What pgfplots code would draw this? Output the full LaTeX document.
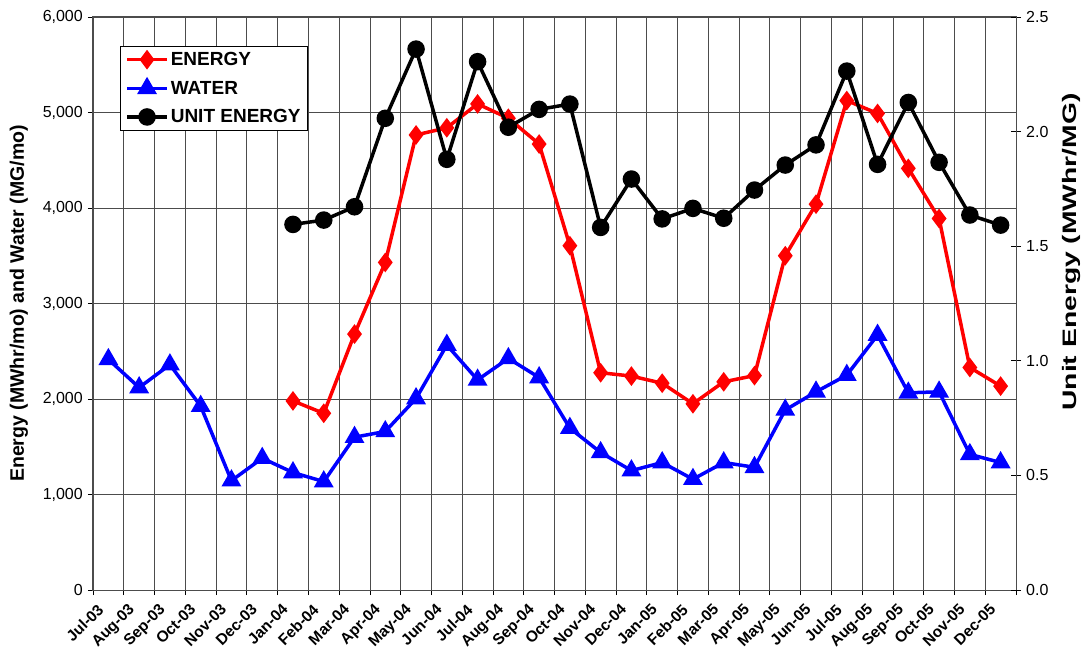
\documentclass[border=0pt]{standalone}
\usepackage{fontspec}
\setmainfont{Liberation Sans}
\usepackage{graphicx}
\usepackage{pgfplots}
\pgfplotsset{compat=1.18}

\newcommand{\tickfont}{\fontsize{16bp}{18bp}\selectfont}
\newcommand{\labfont}{\bfseries\fontsize{19.5bp}{21bp}\selectfont}

\begin{document}
\begin{tikzpicture}
\useasboundingbox (-93bp,-66bp) rectangle (989bp,590bp);
% left axis: energy and water
\begin{axis}[
    at={(0,0)}, anchor=south west,
    scale only axis,
    width=923bp, height=573bp,
    xmin=0, xmax=30,
    ymin=0, ymax=6000,
    xtick={0,...,30},
    xticklabels={Jul-03,Aug-03,Sep-03,Oct-03,Nov-03,Dec-03,
                 Jan-04,Feb-04,Mar-04,Apr-04,May-04,Jun-04,Jul-04,Aug-04,Sep-04,Oct-04,Nov-04,Dec-04,
                 Jan-05,Feb-05,Mar-05,Apr-05,May-05,Jun-05,Jul-05,Aug-05,Sep-05,Oct-05,Nov-05,Dec-05,{}},
    x tick label style={rotate=45, anchor=north east, inner sep=0bp, xshift=-3bp, yshift=-8bp,
                        font=\bfseries\fontsize{15.5bp}{17bp}\selectfont},
    ytick={0,1000,...,6000},
    y tick label style={font=\tickfont, inner sep=2bp, xshift=-3bp},
    /pgf/number format/assume math mode=true,
    /pgf/number format/1000 sep={,},
    scaled y ticks=false,
    tick align=outside,
    major tick length=5bp,
    xtick pos=bottom, ytick pos=left,
    xmajorgrids, ymajorgrids,
    major grid style={black!70, line width=0.8bp},
    axis line style={black!70, line width=1bp},
    tick style={black, line width=0.8bp},
    ylabel={Energy (MWhr/mo) and Water (MG/mo)},
    ylabel style={font=\labfont, at={(axis description cs:-0.0802,0.5)}, anchor=center},
    legend style={at={(27bp,544bp)}, anchor=north west, draw=black, line width=0.6bp,
                  font=\bfseries\fontsize{19bp}{21bp}\selectfont,
                  inner xsep=5bp, inner ysep=4bp, row sep=10bp,
                  /tikz/every even column/.append style={column sep=3bp}},
    legend cell align=left,
    legend image code/.code={\draw[#1, mark repeat=2, mark phase=2]
        plot coordinates {(0bp,0bp) (20bp,0bp) (40bp,0bp)};},
]
\addplot[red, line width=3.5bp, mark=diamond*, mark size=7bp, mark options={solid}] coordinates {
(6.5,1980) (7.5,1850) (8.5,2680) (9.5,3430) (10.5,4765) (11.5,4840) (12.5,5090) (13.5,4940)
(14.5,4670) (15.5,3605) (16.5,2275) (17.5,2240) (18.5,2165) (19.5,1950) (20.5,2180) (21.5,2245)
(22.5,3500) (23.5,4040) (24.5,5125) (25.5,4990) (26.5,4415) (27.5,3890) (28.5,2330) (29.5,2135)
};
\addlegendentry{ENERGY}
\addplot[blue, line width=3.5bp, mark=triangle*, mark size=8bp, mark options={solid}] coordinates {
(0.5,2415) (1.5,2120) (2.5,2360) (3.5,1925) (4.5,1145) (5.5,1380) (6.5,1230) (7.5,1135)
(8.5,1600) (9.5,1660) (10.5,2005) (11.5,2565) (12.5,2200) (13.5,2425) (14.5,2225) (15.5,1695)
(16.5,1440) (17.5,1250) (18.5,1335) (19.5,1160) (20.5,1335) (21.5,1285) (22.5,1885) (23.5,2075)
(24.5,2250) (25.5,2670) (26.5,2065) (27.5,2075) (28.5,1420) (29.5,1335)
};
\addlegendentry{WATER}
\addlegendimage{black, line width=3.5bp, mark=*, mark size=7bp}
\addlegendentry{UNIT ENERGY}
\end{axis}
% right axis: unit energy
\begin{axis}[
    at={(0,0)}, anchor=south west,
    scale only axis,
    width=923bp, height=573bp,
    xmin=0, xmax=30,
    ymin=0, ymax=2.5,
    axis x line=none,
    axis y line*=right,
    ytick={0,0.5,...,2.5},
    y tick label style={font=\tickfont, inner sep=2bp, xshift=3bp},
    /pgf/number format/assume math mode=true,
    yticklabel={\pgfmathprintnumber[fixed, fixed zerofill, precision=1]{\tick}},
    tick align=center,
    major tick length=10bp,
    axis line style={black!70, line width=1bp},
    tick style={black, line width=0.8bp},
    ylabel={\scalebox{1.45}[1]{Unit Energy (MWhr/MG)}},
    ylabel style={font=\labfont, at={(axis description cs:1.0596,0.59)}, anchor=center},
]
\addplot[black, line width=3.5bp, mark=*, mark size=7bp] coordinates {
(6.5,1.595) (7.5,1.614) (8.5,1.672) (9.5,2.058) (10.5,2.360) (11.5,1.879) (12.5,2.305) (13.5,2.019)
(14.5,2.097) (15.5,2.120) (16.5,1.582) (17.5,1.793) (18.5,1.619) (19.5,1.665) (20.5,1.622) (21.5,1.745)
(22.5,1.854) (23.5,1.942) (24.5,2.264) (25.5,1.857) (26.5,2.127) (27.5,1.866) (28.5,1.636) (29.5,1.592)
};
\end{axis}
\end{tikzpicture}
\end{document}
